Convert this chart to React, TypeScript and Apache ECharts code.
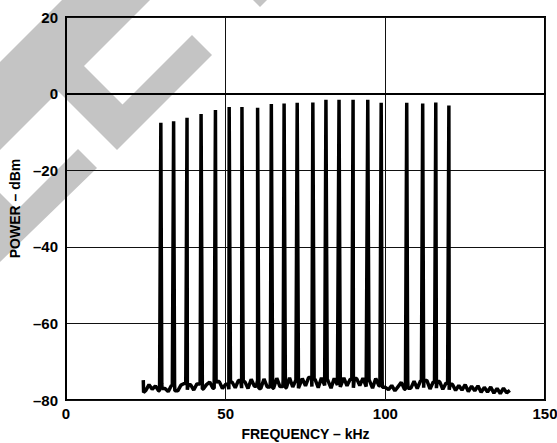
import React, { useEffect, useRef } from "react";
import * as echarts from "echarts";

const X_MIN = 0;
const X_MAX = 150;
const X_STEP = 50;
const Y_MIN = -80;
const Y_MAX = 20;
const Y_STEP = 20;

const TONE_FREQ_KHZ = [
  29.7, 33.7, 37.9, 42.3, 46.8, 51.1, 55.1, 60.0, 64.3, 68.3, 72.4, 77.3,
  81.4, 85.5, 89.9, 94.5, 98.7, 106.7, 111.7, 115.8, 119.9,
];
const TONE_LEVEL_DBM = [
  -7.6, -7.2, -6.3, -5.3, -4.3, -3.5, -3.5, -3.7, -2.7, -2.6, -2.4, -2.35,
  -1.6, -1.6, -1.6, -1.6, -2.4, -2.4, -2.6, -2.3, -3.1,
];

const NOISE_LEAD: [number, number][] = [
  [24.2, -74.8],
  [24.3, -78.0],
];
const NOISE_START_KHZ = 25;
const NOISE_DBM = [
  // 25 – 50 kHz
  -77.5, -76.0, -77.2, -76.3, -77.6, -75.8, -77.0, -77.8, -76.2, -75.9,
  -77.6, -76.1, -75.7, -77.3, -76.0, -77.4, -75.8, -75.4, -77.1, -76.0,
  -75.3, -76.9, -75.6, -75.2, -77.0, -75.9,
  // 51 – 100 kHz
  -77.2, -75.3, -76.8, -74.9, -76.9, -75.2, -77.0, -74.6, -76.4, -74.9,
  -77.0, -74.5, -76.6, -74.8, -76.9, -74.3, -76.5, -74.7, -76.8, -74.2,
  -76.6, -74.8, -76.9, -74.4, -76.3, -74.1, -76.5, -74.6, -76.8, -74.2,
  -76.2, -74.5, -76.9, -74.3, -76.1, -76.6, -74.2, -76.3, -74.6, -76.8,
  -74.4, -76.2, -74.3, -76.5, -74.7, -76.9, -74.4, -76.3, -74.8, -76.7,
  // 101 – 139 kHz
  -77.3, -76.2, -77.6, -76.5, -75.4, -77.2, -74.8, -76.9, -75.1, -77.0,
  -75.0, -76.8, -74.9, -77.1, -75.3, -76.9, -75.2, -77.2, -75.6, -77.3,
  -75.9, -77.5, -76.2, -77.4, -76.0, -77.8, -76.4, -77.6, -76.3, -78.0,
  -76.7, -77.9, -76.6, -78.2, -77.0, -78.3, -76.9, -78.1, -77.5,
];

const X_TITLE = "FREQUENCY \u2013 kHz";
const Y_TITLE = "POWER \u2013 dBm";

const FONT = "'Liberation Sans', Arial, Helvetica, sans-serif";
const WATERMARK = "#c4c4c4";

function buildTrace(): [number, number][] {
  const pts: [number, number][] = [];
  NOISE_LEAD.forEach((p) => pts.push([p[0], p[1]]));
  NOISE_DBM.forEach((v, i) => pts.push([NOISE_START_KHZ + i, v]));
  TONE_FREQ_KHZ.forEach((f, i) => {
    const l = f - 0.4;
    const r = f + 0.4;
    const nl = NOISE_DBM[Math.floor(l) - NOISE_START_KHZ];
    const nr = NOISE_DBM[Math.ceil(r) - NOISE_START_KHZ];
    pts.push([l, nl], [f, TONE_LEVEL_DBM[i]], [r, nr]);
  });
  pts.sort((a, b) => a[0] - b[0]);
  return pts;
}

export default function App() {
  const ref = useRef<HTMLDivElement>(null);

  useEffect(() => {
    if (!ref.current) return;
    const chart = echarts.init(ref.current, null, { renderer: "svg" });
    const labelFmt = (v: number) => String(v).replace("-", "\u2013");
    chart.setOption({
      animation: false,
      backgroundColor: "#fff",
      graphic: {
        elements: [
          {
            type: "polygon",
            z: -10,
            silent: true,
            shape: {
              points: [
                [62, 0], [150, 0], [84, 66], [122.5, 104.5], [192, 35],
                [212, 55], [117, 150], [58.5, 91.5], [0, 150], [0, 62],
              ],
            },
            style: { fill: WATERMARK },
          },
          {
            type: "polygon",
            z: -10,
            silent: true,
            shape: {
              points: [[0, 193], [17, 210], [78, 149], [97, 168], [0, 262]],
            },
            style: { fill: WATERMARK },
          },
          {
            type: "polygon",
            z: -10,
            silent: true,
            shape: { points: [[253, 0], [267, 0], [260, 7]] },
            style: { fill: WATERMARK },
          },
        ],
      },
      grid: {
        left: 66,
        right: 12,
        top: 17,
        bottom: 43,
        show: true,
        containLabel: false,
        outerBoundsMode: "none",
        borderColor: "#000",
        borderWidth: 2,
        backgroundColor: "transparent",
      },
      xAxis: {
        type: "value",
        min: X_MIN,
        max: X_MAX,
        interval: X_STEP,
        axisLine: { show: true, lineStyle: { color: "#000", width: 2 } },
        axisTick: { show: false },
        splitLine: { show: true, lineStyle: { color: "#111", width: 1 } },
        axisLabel: {
          color: "#000",
          fontFamily: FONT,
          fontWeight: "bold",
          fontSize: 15,
          margin: 6,
          formatter: labelFmt,
        },
        name: X_TITLE,
        nameLocation: "middle",
        nameGap: 27,
        nameTextStyle: {
          color: "#000",
          fontFamily: FONT,
          fontWeight: "bold",
          fontSize: 14,
          lineHeight: 14,
        },
      },
      yAxis: {
        type: "value",
        min: Y_MIN,
        max: Y_MAX,
        interval: Y_STEP,
        axisLine: { show: true, lineStyle: { color: "#000", width: 2 } },
        axisTick: { show: false },
        splitLine: { show: true, lineStyle: { color: "#111", width: 1 } },
        axisLabel: {
          color: "#000",
          fontFamily: FONT,
          fontWeight: "bold",
          fontSize: 15,
          margin: 8,
          formatter: labelFmt,
        },
        name: Y_TITLE,
        nameLocation: "middle",
        nameGap: 36,
        nameTextStyle: {
          color: "#000",
          fontFamily: FONT,
          fontWeight: "bold",
          fontSize: 14,
        },
      },
      series: [
        {
          type: "line",
          data: buildTrace(),
          showSymbol: false,
          symbol: "none",
          z: 3,
          lineStyle: { color: "#000", width: 3.5, join: "bevel" },
        },
      ],
    });
    return () => chart.dispose();
  }, []);

  return (
    <div
      ref={ref}
      style={{ position: "fixed", left: 0, top: 0, width: 557, height: 443 }}
    />
  );
}
